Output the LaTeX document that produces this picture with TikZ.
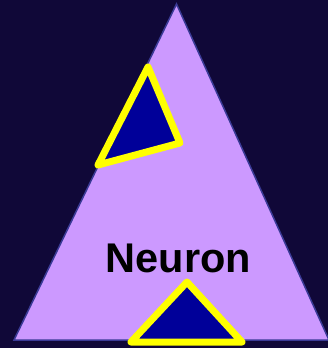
\documentclass[tikz,border=0pt]{standalone}
\usepackage{fontspec}
\setmainfont{Liberation Sans}
\definecolor{nightbg}{HTML}{100838}
\definecolor{cellfill}{HTML}{CC99FF}
\definecolor{celledge}{HTML}{3A3A96}
\definecolor{synfill}{HTML}{000099}
\definecolor{synedge}{HTML}{FFFF00}
\begin{document}
\begin{tikzpicture}[x=1pt,y=-1pt,
  synapse/.style={draw=synedge,fill=synfill,line width=7pt,line join=round}]
  % background / outside region
  \fill[nightbg] (0,0) rectangle (328,348);
  \useasboundingbox (0,0) rectangle (328,348);

  % cell body
  \draw[celledge,fill=cellfill,line width=1.5pt] (176.5,4) -- (14,340) -- (329,340) -- cycle;

  % synapses
  \draw[synapse] (148,67) -- (180,143) -- (98,165) -- cycle;   % upper left
  \draw[synapse] (187,282) -- (242,342) -- (131,342) -- cycle; % bottom

  % label
  \node[font=\bfseries\fontsize{41.5}{45}\selectfont,inner sep=0pt] (neuron) at (178.5,258) {Neuron};
\end{tikzpicture}
\end{document}
